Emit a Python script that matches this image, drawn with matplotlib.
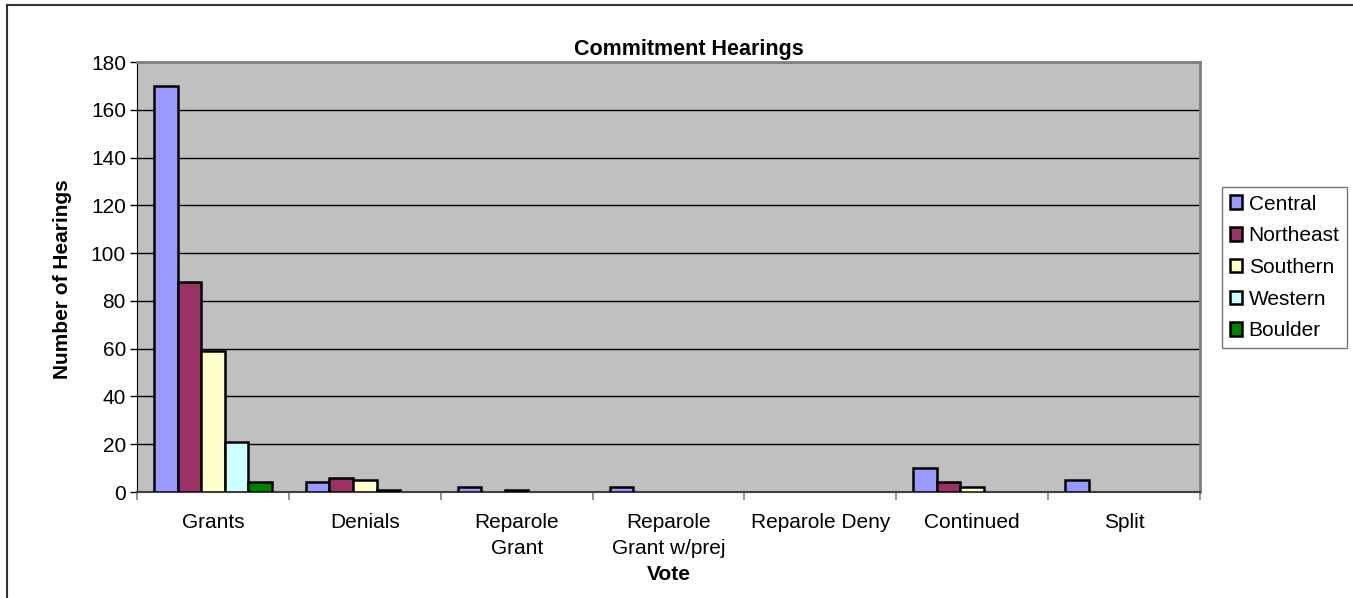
import matplotlib
matplotlib.use("Agg")
import matplotlib.pyplot as plt
import numpy as np
from matplotlib.lines import Line2D

plt.rcParams['font.family'] = ['Liberation Sans', 'DejaVu Sans']

categories = ["Grants", "Denials", "Reparole\nGrant", "Reparole\nGrant w/prej",
              "Reparole Deny", "Continued", "Split"]
series_names = ["Central", "Northeast", "Southern", "Western", "Boulder"]
central = [170, 4, 2, 2, 0, 10, 5]
northeast = [88, 6, 0, 0, 0, 4, 0]
southern = [59, 5, 1, 0, 0, 2, 0]
western = [21, 1, 0, 0, 0, 0, 0]
boulder = [4, 0, 0, 0, 0, 0, 0]
colors = ["#9999FF", "#993366", "#FFFFCC", "#CCFFFF", "#008000"]
yticks = [0, 20, 40, 60, 80, 100, 120, 140, 160, 180]

W, H = 1353, 598
fig = plt.figure(figsize=(W / 100, H / 100), dpi=100)
ax = fig.add_axes([137 / W, 1 - 492 / H, (1200 - 137) / W, (492 - 62) / H])
ax.set_facecolor("#C0C0C0")

series = [central, northeast, southern, western, boulder]
n = len(categories)
x = np.arange(n)
bw = 118 / 5 / 151.9
for i, (vals, c, name) in enumerate(zip(series, colors, series_names)):
    lws = [1.8 if v > 0 else 0 for v in vals]
    ax.bar(x - 2.5 * bw + (i + 0.5) * bw, vals, width=bw, color=c,
           edgecolor="black", linewidth=lws, label=name, zorder=3)

ax.set_xlim(-0.5, n - 0.5)
ax.set_ylim(0, 180)
ax.set_yticks(yticks)
ax.yaxis.grid(True, color="black", linewidth=1.0, zorder=1)
ax.set_axisbelow(True)
ax.tick_params(axis="y", direction="out", length=5, width=1, labelsize=15, pad=3)
ax.set_xticks(x)
ax.set_xticklabels(categories, fontsize=15, va="top", linespacing=1.45)
ax.tick_params(axis="x", length=0, pad=15)
ax.set_xticks(np.arange(n + 1) - 0.5, minor=True)
ax.tick_params(axis="x", which="minor", direction="out", length=6, width=1.2, color="#808080")

for s in ["top", "right"]:
    ax.spines[s].set_color("#808080")
    ax.spines[s].set_linewidth(2)
ax.spines["left"].set_color("black")
ax.spines["bottom"].set_color("#404040")
ax.spines["bottom"].set_linewidth(1.5)

fig.text(689 / W, 1 - 50 / H, "Commitment Hearings", fontsize=15.5,
         fontweight="bold", ha="center", va="center")
fig.text(63 / W, 1 - 279 / H, "Number of Hearings", fontsize=15, fontweight="bold",
         ha="center", va="center", rotation=90)
fig.text((137 + 1200) / 2 / W, 1 - 574 / H, "Vote", fontsize=15, fontweight="bold",
         ha="center", va="center")

leg = ax.legend(loc="upper left", bbox_to_anchor=(1222 / W, 1 - 187 / H),
                bbox_transform=fig.transFigure, frameon=True, fancybox=False,
                fontsize=15, handlelength=0.62, handleheight=0.62, handletextpad=0.3,
                labelspacing=0.61, borderpad=0.36, borderaxespad=0)
leg.get_frame().set_edgecolor("#555555")
leg.get_frame().set_linewidth(1.0)
for h in leg.legend_handles:
    h.set_linewidth(1.8)

fig.add_artist(Line2D([7 / W, 1], [1 - 5 / H, 1 - 5 / H], color="#333333", linewidth=1.5,
                      transform=fig.transFigure))
fig.add_artist(Line2D([7 / W, 7 / W], [0, 1 - 5 / H], color="#333333", linewidth=1.5,
                      transform=fig.transFigure))

fig.savefig("out.png", dpi=100)
